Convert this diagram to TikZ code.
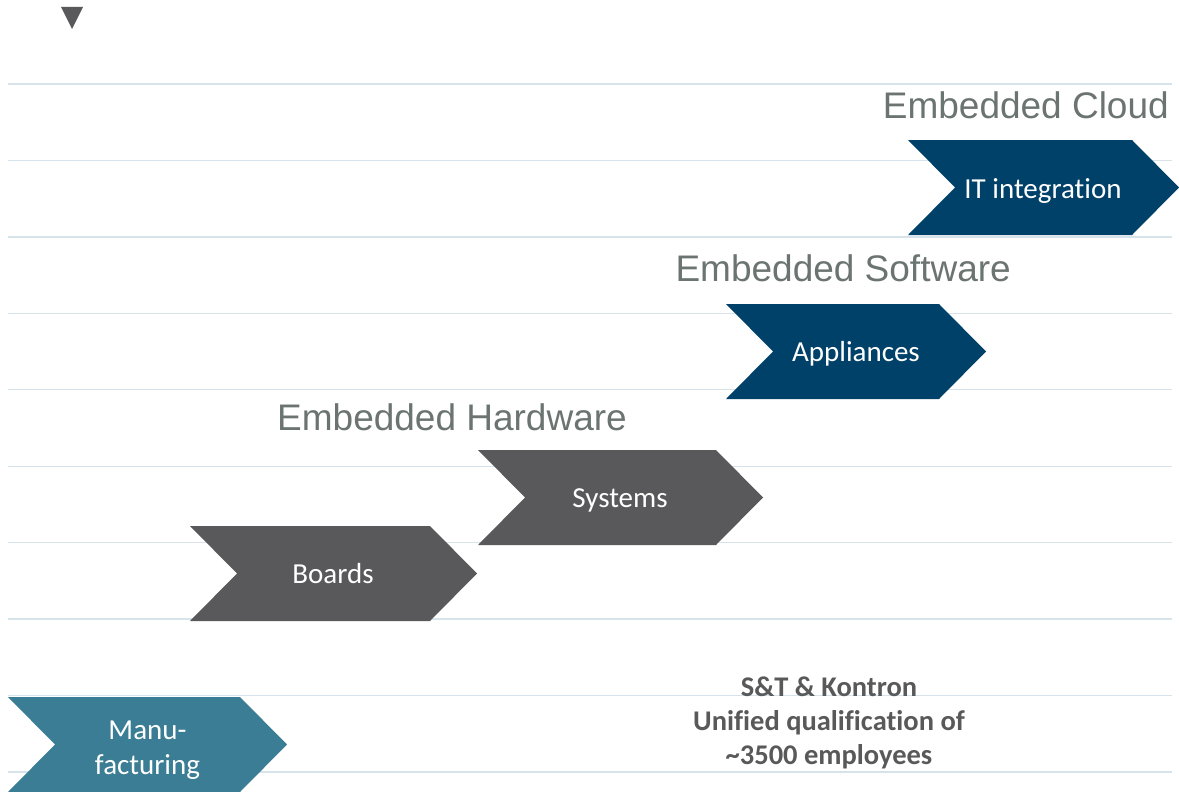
\documentclass[tikz,border=0pt]{standalone}
\usepackage{fontspec}
\setmainfont[Ligatures=NoCommon]{Carlito}
\newfontfamily\titlefont{Liberation Sans}
\definecolor{cnavy}{HTML}{00416A}
\definecolor{cslate}{HTML}{59595B}
\definecolor{cteal}{HTML}{3B7D94}
\definecolor{crule}{HTML}{D6E3EA}
\definecolor{ctitle}{HTML}{6B7471}
\definecolor{cnote}{HTML}{595959}
\tikzset{
  gridline/.style={draw=crule, line width=1.3pt},
  chevtext/.style={text=white, inner sep=0pt, align=center, font=\fontsize{29}{35}\selectfont},
  titletext/.style={text=ctitle, inner sep=0pt, font=\titlefont\fontsize{37}{44}\selectfont},
  notetext/.style={text=cnote, inner sep=0pt, align=center, font=\bfseries\fontsize{28.5}{34}\selectfont},
}
% chevron: left x, top y, top edge width, colour
\newcommand{\chevshape}[4]{%
  \fill[#4] (#1,#2) -- ++(#3,0) -- ++(47,47.5) -- ++(-47,47.5) -- ++(-#3,0) -- ++(47,-47.5) -- cycle;}
\begin{document}
\begin{tikzpicture}[x=1pt,y=-1pt]
\useasboundingbox (0,0) rectangle (1179,792);
% horizontal rules
\foreach \yy in {84,160.4,236.9,313.3,389.8,466.2,542.6,619.1,695.5,772}
  \draw[gridline] (8,\yy) -- (1172,\yy);
% marker triangle
\fill[cslate] (61,7) -- (83,7) -- (72,29) -- cycle;
% chevrons
\chevshape{908}{140}{224}{cnavy}
\chevshape{726}{304}{213}{cnavy}
\chevshape{478}{450}{238}{cslate}
\chevshape{190}{526}{240}{cslate}
\chevshape{8}{697}{232}{cteal}
% chevron labels
\node[chevtext, anchor=base] (it) at (1043,198) {IT integration};
\node[chevtext, anchor=base] (app) at (856,361) {Appliances};
\node[chevtext, anchor=base] (sys) at (620,507) {Systems};
\node[chevtext, anchor=base] (brd) at (333,583) {Boards};
\node[chevtext, anchor=center] (mfg) at (147.5,750) {Manu-\\facturing};
% titles
\node[titletext, anchor=base east] (cloud) at (1169,118) {Embedded Cloud};
\node[titletext, anchor=base east] (soft) at (1011,281) {Embedded Software};
\node[titletext, anchor=base west] (hard) at (277,430) {Embedded Hardware};
% note
\node[notetext, anchor=center] (note) at (829,723) {S\&T \& Kontron\\Unified qualification of\\\textasciitilde 3500 employees};
\end{tikzpicture}
\end{document}
